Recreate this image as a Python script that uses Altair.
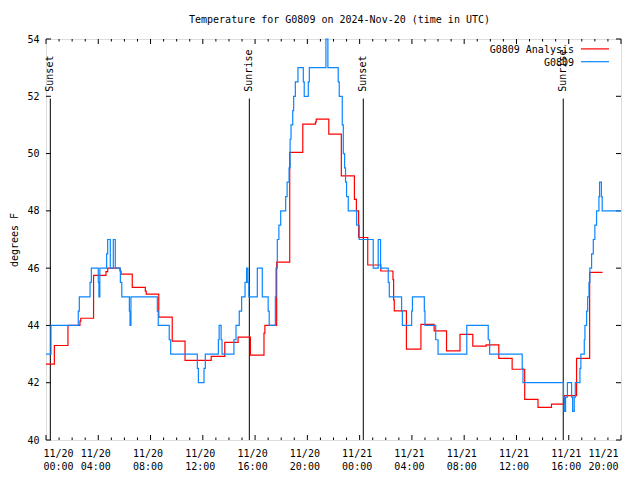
import altair as alt
import pandas as pd

# ---- data (hours since 2024-11-20 00:00 UTC, temperature in degrees F) ----
obs_hours = [0.0, 0.38, 2.47, 2.55, 3.37, 3.47, 4.0, 4.05, 4.12, 4.64, 4.72, 4.92,
             5.15, 5.3, 5.69, 5.8, 6.38, 6.43, 6.5, 8.52, 8.59, 9.43, 9.54, 11.58,
             11.66, 12.09, 12.19, 13.19, 13.25, 13.4, 13.47, 14.38, 14.54, 14.79,
             14.97, 15.23, 15.35, 15.45, 15.52, 16.17, 16.55, 17.0, 17.08, 17.55,
             17.6, 17.7, 17.82, 17.96, 18.34, 18.45, 18.6, 18.68, 18.75, 18.88,
             18.95, 19.08, 19.28, 19.69, 19.76, 20.07, 20.15, 21.42, 21.57, 22.36,
             22.44, 22.67, 22.75, 22.85, 22.92, 23.0, 23.13, 23.77, 23.97, 25.04,
             25.42, 25.6, 26.19, 26.27, 27.21, 27.27, 27.98, 28.04, 28.95, 29.0,
             29.82, 30.0, 32.2, 33.84, 33.95, 36.44, 36.5, 39.6, 39.66, 39.76,
             39.9, 40.22, 40.3, 40.42, 40.5, 40.86, 40.93, 41.19, 41.24, 41.37,
             41.45, 41.55, 41.62, 41.75, 41.88, 42.0, 42.13, 42.31, 42.36, 42.5,
             42.56, 44.0]
obs_temps = [43, 44, 44.5, 45, 45.5, 46, 45.5, 45, 46, 46.5, 47, 46,
             47, 46, 45.5, 45, 44.5, 44, 45, 44.5, 44, 43.5, 43, 42.5,
             42, 42.5, 43, 43.5, 44, 43.5, 43, 43.5, 44, 44.5,
             45, 45.5, 46, 45.5, 45, 46, 45, 44.5, 44, 45,
             46, 47, 47.5, 48, 48.5, 49, 49.5, 50.5, 51, 51.5,
             52, 52.5, 53, 52.5, 52, 52.5, 53, 54, 53, 52.5,
             52, 51, 50, 49.5, 49, 48.5, 48, 47.5, 47, 46,
             47, 46, 45.5, 45, 44.5, 44, 44.5, 45, 44.5, 44,
             43.5, 43, 44, 43.5, 43, 42.5, 42, 41.5, 41, 41.5,
             42, 41.5, 41, 41.5, 42, 42.5, 43, 43.5, 44, 44.5,
             45, 45.5, 46, 46.5, 47, 47.5, 48, 48.5, 49, 48.5,
             48, 48]

ana_hours = [0.0, 0.64, 1.68, 2.6, 2.66, 3.64, 4.59, 4.72, 5.66, 5.74, 6.6, 7.6,
             7.67, 8.63, 9.66, 10.64, 12.64, 13.68, 14.7, 15.64, 16.68, 16.75,
             17.65, 18.65, 19.65, 20.62, 20.68, 21.64, 22.6, 23.6, 23.75, 23.92,
             24.62, 25.62, 26.55, 26.6, 26.65, 27.58, 28.69, 29.7, 30.65, 31.68,
             32.66, 33.68, 34.65, 35.67, 36.63, 37.65, 38.68, 39.66, 40.6, 41.6,
             42.59]
ana_temps = [42.65, 43.3, 44.0, 44.15, 44.25, 45.75, 45.88, 46.0, 45.9, 45.79, 45.33, 45.2,
             45.09, 44.29, 43.45, 42.78, 42.92, 43.41, 43.59, 42.96, 43.73, 44.0,
             46.21, 50.04, 51.03, 51.1, 51.2, 50.68, 49.22, 48.4, 48.0, 47.07,
             46.11, 45.9, 45.6, 44.89, 44.51, 43.17, 44.04, 43.81, 43.11, 43.69,
             43.28, 43.32, 42.85, 42.47, 41.42, 41.14, 41.25, 41.55, 42.85, 45.85,
             45.85]

event_hours = [0.33, 15.56, 24.28, 39.58]
event_labels = ["Sunset", "Sunrise", "Sunset", "Sunrise"]

x_major = list(range(0, 45, 4))
x_minor = [h for h in range(0, 45) if h % 4 != 0]
y_ticks = [40, 42, 44, 46, 48, 50, 52, 54]

series_names = ["G0809 Analysis", "G0809"]
series_colors = ["#ff0000", "#0a86ff"]

# ---- layout / style ----
W, H = 575, 401
FONT = "DejaVu Sans Mono"
FS = 10

obs = pd.DataFrame({"hour": obs_hours, "temp": obs_temps})
ana = pd.DataFrame({"hour": ana_hours, "temp": ana_temps})
events = pd.DataFrame({"hour": event_hours, "label": event_labels,
                       "lo": [40] * 4, "hi": [51.92] * 4, "ty": [52.16] * 4})
xmaj = pd.DataFrame({"hour": x_major})
xmin = pd.DataFrame({"hour": x_minor})
yt = pd.DataFrame({"temp": y_ticks})

xscale = alt.Scale(domain=[0, 44], nice=False, zero=False)
yscale = alt.Scale(domain=[40, 54], nice=False, zero=False)

x_axis = alt.Axis(
    values=x_major,
    labelExpr="[datum.value < 24 ? '11/20' : '11/21', "
              "(datum.value % 24 < 10 ? '0' : '') + (datum.value % 24) + ':00']",
    labelFont=FONT, labelFontSize=FS, labelColor="black", labelAngle=0,
    labelPadding=8, labelLineHeight=13.5, labelOffset=-3,
    domain=False, ticks=False, grid=False, title=None,
)
y_axis = alt.Axis(
    values=y_ticks, labelFont=FONT, labelFontSize=FS, labelColor="black",
    labelPadding=7, domain=False, ticks=False, grid=False,
    title="degrees F", titleFont=FONT, titleFontSize=FS, titleFontWeight="normal",
    titleColor="black", titleX=-32, titleY=H / 2, titleAngle=270,
    titleAlign="center", titleBaseline="middle",
)

X = alt.X("hour:Q", scale=xscale, axis=x_axis)
Y = alt.Y("temp:Q", scale=yscale, axis=y_axis)

red_line = alt.Chart(ana).mark_line(interpolate="step-after", color=series_colors[0],
                                    strokeWidth=1.2).encode(x=X, y=Y)
blue_line = alt.Chart(obs).mark_line(interpolate="step-after", color=series_colors[1],
                                     strokeWidth=1.2).encode(x=X, y=Y)

ev_rules = alt.Chart(events).mark_rule(color="black", strokeWidth=1).encode(
    x=alt.X("hour:Q", scale=xscale),
    y=alt.Y("lo:Q", scale=yscale),
    y2="hi:Q",
)
ev_text = alt.Chart(events).mark_text(
    angle=270, align="left", baseline="middle", font=FONT, fontSize=FS, color="black"
).encode(
    x=alt.X("hour:Q", scale=xscale),
    y=alt.Y("ty:Q", scale=yscale),
    text="label:N",
)

def xticks(df, y0, y1):
    return alt.Chart(df).mark_rule(color="black", strokeWidth=1).encode(
        x=alt.X("hour:Q", scale=xscale), y=alt.value(y0), y2=alt.value(y1))

def yticks(x0, x1):
    return alt.Chart(yt).mark_rule(color="black", strokeWidth=1).encode(
        y=alt.Y("temp:Q", scale=yscale), x=alt.value(x0), x2=alt.value(x1))

tick_layers = [
    xticks(xmaj, H, H - 5), xticks(xmaj, 0, 5),
    xticks(xmin, H, H - 2.5), xticks(xmin, 0, 2.5),
    yticks(0, 5), yticks(W, W - 5),
]

# legend (gnuplot style: label then line sample), top right
leg_rows = []
for i, (name, col) in enumerate(zip(series_names, series_colors)):
    ty = 10.7 + i * 12.8
    d = pd.DataFrame({"name": [name]})
    leg_rows.append(alt.Chart(d).mark_text(
        align="right", baseline="middle", font=FONT, fontSize=FS, color="black"
    ).encode(text="name:N", x=alt.value(528), y=alt.value(ty)))
    leg_rows.append(alt.Chart(d).mark_rule(color=col, strokeWidth=1.2).encode(
        x=alt.value(535), x2=alt.value(563), y=alt.value(ty - 0.8)))

chart = alt.layer(
    *tick_layers, ev_rules, ev_text, red_line, blue_line, *leg_rows
).properties(
    width=W, height=H,
    title=alt.TitleParams(
        "Temperature for G0809 on 2024-Nov-20 (time in UTC)",
        font=FONT, fontSize=FS, fontWeight="normal", color="black",
        anchor="middle", dx=6, offset=9,
    ),
    autosize="none",
    padding={"left": 38, "top": 31, "right": 11, "bottom": 33},
).configure_view(
    stroke="black", strokeWidth=1
).configure(background="white")

chart.save("out.html", embed_options={"renderer": "svg", "actions": False})
